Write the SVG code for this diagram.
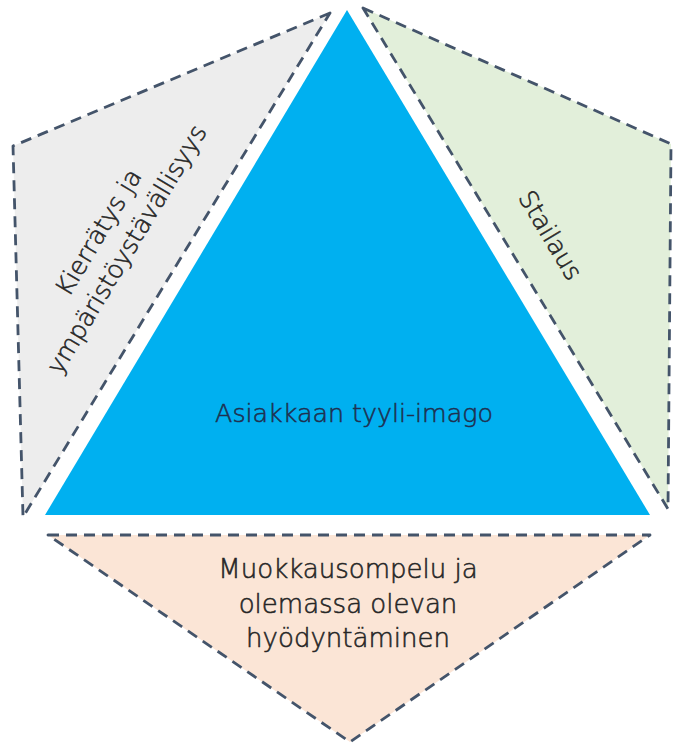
<svg xmlns="http://www.w3.org/2000/svg" width="678" height="745" viewBox="0 0 678 745">
<style>
.seg{stroke:#44546A;stroke-width:2.8;stroke-dasharray:11 7;stroke-linejoin:round}
.lbl{font-family:"DejaVu Sans","Open Sans",sans-serif;font-weight:200;font-size:25px;fill:#262626;stroke:#262626;stroke-width:0.55;text-anchor:middle}
</style>
<rect width="678" height="745" fill="#ffffff"/>
<g id="kierratys">
<polygon class="seg" points="330,13 13,146 23,517" fill="#EDEDED"/>
<text class="lbl" transform="translate(128,250) rotate(-59)"><tspan x="0" y="-26">Kierrätys ja</tspan><tspan x="0" y="7">ympäristöystävällisyys</tspan></text>
</g>
<g id="stailaus">
<polygon class="seg" points="363,8 671,144 668,509" fill="#E2EFDA"/>
<text class="lbl" transform="translate(549,236) rotate(59)" y="7">Stailaus</text>
</g>
<g id="muokkaus">
<polygon class="seg" points="48,535 650,535 350,742" fill="#FBE5D6"/>
<text class="lbl" style="font-size:26px"><tspan x="348" y="578">Muokkausompelu ja</tspan><tspan x="348" y="613">olemassa olevan</tspan><tspan x="348" y="647">hyödyntäminen</tspan></text>
</g>
<g id="asiakas">
<polygon points="347,10 45,515 650,515" fill="#00B0F0"/>
<text class="lbl" x="354" y="422" style="fill:#1F3050;stroke:#1F3050;font-size:25.3px">Asiakkaan tyyli-imago</text>
</g>
<g id="connectors"/>
</svg>
